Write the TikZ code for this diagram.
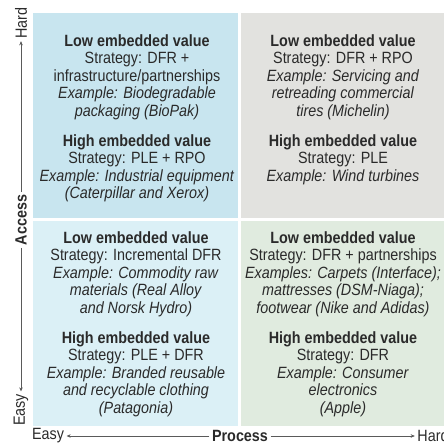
\documentclass[tikz,border=0pt]{standalone}
\usepackage{fontspec}
\setmainfont{Liberation Sans}[FakeStretch=0.88]
\usetikzlibrary{arrows.meta}

\definecolor{quadtl}{RGB}{200,229,239}
\definecolor{quadtr}{RGB}{226,226,223}
\definecolor{quadbl}{RGB}{219,240,246}
\definecolor{quadbr}{RGB}{224,235,223}
\definecolor{inktext}{RGB}{42,42,42}
\definecolor{axisline}{RGB}{90,90,90}

\tikzset{
  block/.style={anchor=north, align=center, inner sep=0pt, text=inktext,
    font=\fontsize{16.3}{17.6}\selectfont},
  axislabel/.style={inner sep=2.5pt, text=inktext,
    font=\fontsize{16.3}{17.6}\selectfont},
  axisbold/.style={axislabel, font=\fontsize{16.3}{17.6}\selectfont\bfseries},
  axisarrow/.style={draw=axisline, line width=0.5pt,
    -{Stealth[length=4pt,width=3.5pt]}},
  quad/.style={draw=none, fill=#1},
}

\begin{document}
\begin{tikzpicture}[x=1pt,y=-1pt]
  \useasboundingbox (0,0) rectangle (444,443);

  % quadrant backgrounds
  \path[quad=quadtl] (33,13) rectangle (238,218);
  \path[quad=quadtr] (241,13) rectangle (444,218);
  \path[quad=quadbl] (33,221) rectangle (238,426);
  \path[quad=quadbr] (241,221) rectangle (444,426);

  % top-left quadrant
  \node[block] (tlLow) at (137,34) {\textbf{Low embedded value}\\
    Strategy: DFR +\\ infrastructure/partnerships\\
    \textit{Example: Biodegradable}\\ \textit{packaging (BioPak)}};
  \node[block] (tlHigh) at (137,134) {\textbf{High embedded value}\\
    Strategy: PLE + RPO\\ \textit{Example: Industrial equipment}\\
    \textit{(Caterpillar and Xerox)}};

  % top-right quadrant
  \node[block] (trLow) at (343,34) {\textbf{Low embedded value}\\
    Strategy: DFR + RPO\\ \textit{Example: Servicing and}\\
    \textit{retreading commercial}\\ \textit{tires (Michelin)}};
  \node[block] (trHigh) at (343,134) {\textbf{High embedded value}\\
    Strategy: PLE\\ \textit{Example: Wind turbines}};

  % bottom-left quadrant
  \node[block] (blLow) at (136,231) {\textbf{Low embedded value}\\
    Strategy: Incremental DFR\\ \textit{Example: Commodity raw}\\
    \textit{materials (Real Alloy}\\ \textit{and Norsk Hydro)}};
  \node[block] (blHigh) at (136,331) {\textbf{High embedded value}\\
    Strategy: PLE + DFR\\ \textit{Example: Branded reusable}\\
    \textit{and recyclable clothing}\\ \textit{(Patagonia)}};

  % bottom-right quadrant
  \node[block] (brLow) at (343,231) {\textbf{Low embedded value}\\
    Strategy: DFR + partnerships\\ \textit{Examples: Carpets (Interface);}\\
    \textit{mattresses (DSM-Niaga);}\\ \textit{footwear (Nike and Adidas)}};
  \node[block] (brHigh) at (343,331) {\textbf{High embedded value}\\
    Strategy: DFR\\ \textit{Example: Consumer}\\
    \textit{electronics}\\ \textit{(Apple)}};

  % vertical axis: Access
  \node[axislabel, rotate=90] (vHard) at (21,23) {Hard};
  \node[axisbold, rotate=90] (vAccess) at (21,220) {Access};
  \node[axislabel, rotate=90] (vEasy) at (21,410) {Easy};
  \draw[axisarrow] (vAccess.east) -- (vHard.west);
  \draw[axisarrow] (vAccess.west) -- (vEasy.east);

  % horizontal axis: Process
  \node[axislabel] (hEasy) at (48,436) {Easy};
  \node[axisbold] (hProcess) at (240,436) {Process};
  \node[axislabel] (hHard) at (433,436) {Hard};
  \draw[axisarrow] (hProcess.west) -- (hEasy.east);
  \draw[axisarrow] (hProcess.east) -- (hHard.west);
\end{tikzpicture}
\end{document}
